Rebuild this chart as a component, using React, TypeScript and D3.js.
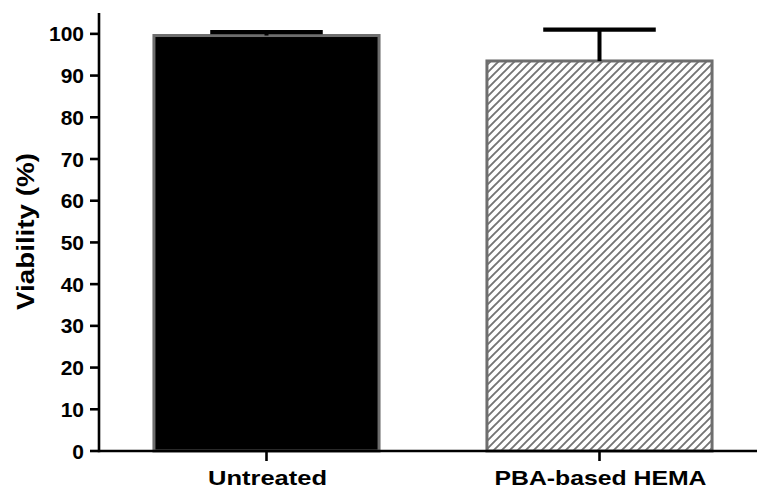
import React from "react";
import * as d3 from "d3";

const categories = ["Untreated", "PBA-based HEMA"];
const means = [99.6, 93.5];
const errors = [0.8, 7.5];
const yTicks = [0, 10, 20, 30, 40, 50, 60, 70, 80, 90, 100];
const yTitle = "Viability (%)";

const W = 757;
const H = 492;
const FONT = "'Liberation Sans', Arial, Helvetica, sans-serif";

export default function App() {
  const y = d3.scaleLinear().domain([0, 105]).range([451, 13]);
  const x = d3
    .scaleBand<string>()
    .domain(categories)
    .range([100, 766])
    .paddingInner(0.324)
    .paddingOuter(0.162);
  const axisX = 99;
  const axisRight = 757;
  const labelLens = [119, 212];

  return (
    <svg
      width={W}
      height={H}
      style={{ position: "absolute", left: 0, top: 0, background: "#fff" }}
      fontFamily={FONT}
    >
      <defs>
        <pattern id="hatch" patternUnits="userSpaceOnUse" width={8} height={8}>
          <path
            d="M-2,2 L2,-2 M0,8 L8,0 M6,10 L10,6"
            stroke="#747474"
            strokeWidth={1.9}
          />
        </pattern>
      </defs>

      {categories.map((c, i) => {
        const x0 = x(c)!;
        const bw = x.bandwidth();
        const top = y(means[i]);
        return (
          <g key={c}>
            <rect
              x={x0}
              y={top}
              width={bw}
              height={y(0) - top}
              fill={i === 0 ? "#000" : "url(#hatch)"}
              stroke="#6e6e6e"
              strokeWidth={3}
            />
          </g>
        );
      })}

      {categories.map((c, i) => {
        const cx = x(c)! + x.bandwidth() / 2;
        const top = y(means[i]);
        const eTop = y(means[i] + errors[i]);
        const half = x.bandwidth() / 4;
        return (
          <g key={"e" + c}>
            <line x1={cx} x2={cx} y1={top} y2={eTop} stroke="#000" strokeWidth={4} />
            <line x1={cx - half} x2={cx + half} y1={eTop} y2={eTop} stroke="#000" strokeWidth={4.2} />
          </g>
        );
      })}

      {/* Y axis */}
      <line x1={axisX} x2={axisX} y1={y(105)} y2={y(0) + 1.2} stroke="#000" strokeWidth={2.6} />
      {yTicks.map((t) => (
        <g key={t}>
          <line x1={axisX - 9} x2={axisX} y1={y(t)} y2={y(t)} stroke="#000" strokeWidth={2.6} />
          <text
            x={84}
            y={y(t)}
            dy="0.36em"
            textAnchor="end"
            fontSize={21}
            fontWeight="bold"
            fill="#000"
          >
            {t}
          </text>
        </g>
      ))}

      {/* X axis */}
      <line x1={axisX} x2={axisRight} y1={y(0)} y2={y(0)} stroke="#000" strokeWidth={2.6} />
      {categories.map((c, i) => {
        const cx = x(c)! + x.bandwidth() / 2;
        return (
          <g key={"x" + c}>
            <line x1={cx} x2={cx} y1={y(0)} y2={y(0) + 10} stroke="#000" strokeWidth={2.6} />
            <text
              x={cx + 1}
              y={485}
              textAnchor="middle"
              fontSize={21}
              fontWeight="bold"
              textLength={labelLens[i]}
              lengthAdjust="spacingAndGlyphs"
              fill="#000"
            >
              {c}
            </text>
          </g>
        );
      })}

      <text
        transform={`translate(34,231.5) rotate(-90)`}
        textAnchor="middle"
        fontSize={24}
        fontWeight="bold"
        textLength={157}
        lengthAdjust="spacingAndGlyphs"
        fill="#000"
      >
        {yTitle}
      </text>
    </svg>
  );
}
